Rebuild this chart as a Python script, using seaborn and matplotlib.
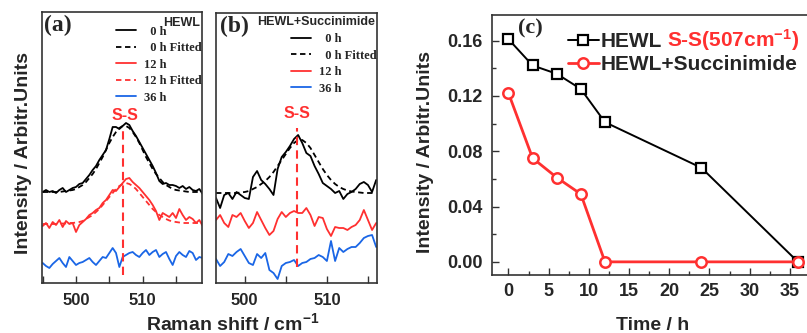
import matplotlib
matplotlib.use("Agg")
import matplotlib.pyplot as plt
from matplotlib.ticker import MultipleLocator, FormatStrFormatter
import seaborn as sns

# Raman spectra, panel (a): HEWL
shift_a = [495.0, 495.5, 496.0, 496.5, 497.0, 497.5, 498.0, 498.5, 499.0, 499.5,
           500.0, 500.5, 501.0, 501.5, 502.0, 502.5, 503.0, 503.5, 504.0, 504.5,
           505.0, 505.5, 506.0, 506.5, 507.0, 507.5, 508.0, 508.5, 509.0, 509.5,
           510.0, 510.5, 511.0, 511.5, 512.0, 512.5, 513.0, 513.5, 514.0, 514.5,
           515.0, 515.5, 516.0, 516.5, 517.0, 517.5, 518.0, 518.5, 519.0]
a_0h = [91, 93, 91, 92, 90, 93, 95, 91, 93, 95,
        96, 99, 100, 104, 108, 113, 117, 123, 128, 133,
        144, 156, 156, 154, 157, 160, 158, 152, 147, 141,
        135, 129, 123, 117, 110, 102, 99, 100, 98, 98,
        97, 95, 97, 94, 96, 93, 92, 94, 89]
a_0h_fit = [91, 91, 91, 91, 91, 91, 91.5, 92, 92.5, 93,
            94, 96, 98, 101, 105, 109, 114, 120, 126, 133,
            140, 146, 151, 155, 157, 157, 155, 151, 146, 140,
            133, 126, 120, 114, 109, 105, 101, 98, 96, 94,
            93, 92.5, 92, 91.5, 91, 91, 91, 91, 91]
a_12h = [57, 60, 55, 61, 58, 63, 56, 62, 59, 60,
         51, 58, 61, 64, 68, 70, 73, 75, 80, 83,
         88, 93, 92, 96, 100, 104, 105, 101, 98, 95,
         91, 87, 83, 78, 72, 63, 70, 68, 66, 70,
         65, 74, 68, 63, 66, 64, 60, 63, 57]
a_12h_fit = [59, 59, 59, 59, 59, 59, 59.5, 59.5, 60, 60,
             60.5, 61, 62, 64, 66, 68, 71, 74, 78, 82,
             86, 90, 94, 97, 99, 100, 99, 97, 94, 90,
             86, 82, 78, 74, 71, 68, 66, 64, 62.5, 61.5,
             61, 60.5, 60, 60, 60, 60, 60, 60, 60]
a_36h = [20, 17, 15, 19, 22, 25, 20, 16, 26, 22,
         18, 20, 21, 23, 25, 21, 18, 22, 26, 25,
         30, 35, 30, 16, 26, 28, 30, 31, 28, 26,
         30, 33, 28, 31, 33, 26, 29, 31, 24, 18,
         27, 31, 28, 26, 32, 30, 23, 26, 25]

# Raman spectra, panel (b): HEWL+Succinimide
shift_b = [496.5, 497.0, 497.5, 498.0, 498.5, 499.0, 499.5, 500.0, 500.5, 501.0,
           501.5, 502.0, 502.5, 503.0, 503.5, 504.0, 504.5, 505.0, 505.5, 506.0,
           506.5, 507.0, 507.5, 508.0, 508.5, 509.0, 509.5, 510.0, 510.5, 511.0,
           511.5, 512.0, 512.5, 513.0, 513.5, 514.0, 514.5, 515.0, 515.5, 516.0]
b_0h = [85, 75, 88, 90, 84, 91, 88, 85, 84, 106,
        112, 103, 99, 94, 88, 114, 126, 131, 137, 144,
        148, 140, 130, 127, 117, 109, 100, 97, 94, 90,
        92, 84, 89, 91, 94, 99, 101, 98, 91, 103]
b_0h_fit = [90, 90, 90, 90, 90, 90, 90.5, 91, 92, 94,
            96, 99, 102, 106, 111, 117, 123, 129, 135, 140,
            143, 143, 140, 135, 128, 121, 114, 108, 103, 99,
            96, 94, 92.5, 91.5, 91, 90.5, 90, 90, 90, 90]
b_12h = [63, 68, 60, 56, 68, 66, 70, 62, 55, 60,
         71, 63, 55, 48, 52, 64, 71, 66, 70, 72,
         70, 70, 75, 68, 57, 66, 65, 54, 47, 56,
         55, 55, 53, 56, 58, 63, 73, 63, 53, 60]
b_36h = [24, 17, 21, 29, 27, 31, 34, 27, 20, 18,
         29, 25, 30, 13, 10, 4, 17, 20, 21, 23,
         17, 20, 21, 24, 25, 28, 26, 22, 42, 22,
         35, 31, 34, 36, 36, 40, 45, 47, 48, 36]

# S-S band intensity vs time, panel (c)
time_h = [0, 3, 6, 9, 12, 24, 36]
hewl_ss = [0.161, 0.142, 0.136, 0.125, 0.101, 0.068, 0.0]
succ_ss = [0.122, 0.075, 0.061, 0.049, 0.0, 0.0, 0.0]

SS_POS_A = 507.0
SS_POS_B = 506.4

RED = "#ff3030"
BLUE = "#1a66e6"
SPINE = "#333333"
SANS = "Liberation Sans"
SERIF = "Liberation Serif"

sns.set_theme(style="ticks")
plt.rcParams["font.family"] = [SANS, "DejaVu Sans"]
plt.rcParams["font.weight"] = "bold"
plt.rcParams["axes.labelweight"] = "bold"
plt.rcParams["mathtext.fontset"] = "custom"
plt.rcParams["mathtext.rm"] = "Liberation Sans:bold"
plt.rcParams["mathtext.bf"] = "Liberation Sans:bold"
plt.rcParams["mathtext.default"] = "bf"

W, H = 807, 333
fig = plt.figure(figsize=(W / 100, H / 100), dpi=100)


def px_axes(left, top, right, bottom):
    return fig.add_axes([left / W, 1 - bottom / H, (right - left) / W, (bottom - top) / H])


ax_a = px_axes(42, 12, 202, 283)
ax_b = px_axes(216, 13, 377, 283)
ax_c = px_axes(492, 15, 814, 275)


def style_spectrum_ax(ax, xlim, ylim):
    ax.set_xlim(*xlim)
    ax.set_ylim(*ylim)
    ax.xaxis.set_major_locator(MultipleLocator(10))
    ax.xaxis.set_minor_locator(MultipleLocator(5))
    ax.set_yticks([])
    ax.tick_params(axis="x", which="both", direction="in", color=SPINE,
                   labelsize=12, pad=7, width=1.0, length=5)
    for s in ax.spines.values():
        s.set_visible(True)
        s.set_color(SPINE)
        s.set_linewidth(1.2)
    ax.set_xlabel("")
    ax.set_ylabel("")


legend_kw = dict(loc="upper right", frameon=False,
                 prop={"family": SERIF, "weight": "bold", "size": 9},
                 handlelength=1.6, handletextpad=0.6, labelspacing=0.36,
                 borderpad=0, borderaxespad=0)

# Panel (a)
sns.lineplot(x=shift_a, y=a_0h, ax=ax_a, color="black", lw=1.3, label="  0 h")
sns.lineplot(x=shift_a, y=a_0h_fit, ax=ax_a, color="black", lw=1.3,
             linestyle=(0, (3, 2)), label="  0 h Fitted")
sns.lineplot(x=shift_a, y=a_12h, ax=ax_a, color=RED, lw=1.3, label="12 h")
sns.lineplot(x=shift_a, y=a_12h_fit, ax=ax_a, color=RED, lw=1.3,
             linestyle=(0, (3, 2)), label="12 h Fitted")
sns.lineplot(x=shift_a, y=a_36h, ax=ax_a, color=BLUE, lw=1.3, label="36 h")
ax_a.vlines(SS_POS_A, 8, 155, colors=RED, linestyles=(0, (4, 2.5)), lw=1.5)
ax_a.text(SS_POS_A + 0.3, 167, "S-S", color=RED, fontsize=11.5, ha="center", va="center")
style_spectrum_ax(ax_a, (494.9, 518.9), (0, 271))
ax_a.legend(bbox_to_anchor=(0.995, 0.95), **legend_kw)
ax_a.text(0.015, 0.99, "(a)", transform=ax_a.transAxes, family=SERIF,
          fontsize=17, ha="left", va="top")
ax_a.text(0.988, 0.96, "HEWL", transform=ax_a.transAxes, fontsize=9,
          ha="right", va="center")

# Panel (b)
sns.lineplot(x=shift_b, y=b_0h, ax=ax_b, color="black", lw=1.3, label="  0 h")
sns.lineplot(x=shift_b, y=b_0h_fit, ax=ax_b, color="black", lw=1.3,
             linestyle=(0, (3, 2)), label="  0 h Fitted")
sns.lineplot(x=shift_b, y=b_12h, ax=ax_b, color=RED, lw=1.3, label="12 h")
sns.lineplot(x=shift_b, y=b_36h, ax=ax_b, color=BLUE, lw=1.3, label="36 h")
ax_b.vlines(SS_POS_B, 16, 155, colors=RED, linestyles=(0, (4, 2.5)), lw=1.5)
ax_b.text(SS_POS_B, 170, "S-S", color=RED, fontsize=11.5, ha="center", va="center")
style_spectrum_ax(ax_b, (496.5, 516.1), (0, 270))
ax_b.legend(bbox_to_anchor=(0.995, 0.925), **legend_kw)
ax_b.text(0.025, 0.99, "(b)", transform=ax_b.transAxes, family=SERIF,
          fontsize=17, ha="left", va="top")
ax_b.text(0.99, 0.965, "HEWL+Succinimide", transform=ax_b.transAxes, fontsize=9,
          ha="right", va="center")

fig.text(24 / W, 1 - 153 / H, "Intensity / Arbitr.Units", rotation=90,
         fontsize=14, ha="center", va="center")
fig.text(233 / W, 3 / H, "Raman shift / cm$^{-1}$", fontsize=14,
         ha="center", va="baseline")

# Panel (c)
sns.lineplot(x=time_h, y=hewl_ss, ax=ax_c, color="black", lw=1.4, marker="s",
             markersize=7, markerfacecolor="white", markeredgecolor="black",
             markeredgewidth=1.6, label="HEWL")
sns.lineplot(x=time_h, y=succ_ss, ax=ax_c, color=RED, lw=2.0, marker="o",
             markersize=7.5, markerfacecolor="white", markeredgecolor=RED,
             markeredgewidth=1.8, label="HEWL+Succinimide")
ax_c.set_xlim(-2.05, 38)
ax_c.set_ylim(-0.0095, 0.1785)
ax_c.xaxis.set_major_locator(MultipleLocator(5))
ax_c.xaxis.set_minor_locator(MultipleLocator(2.5))
ax_c.yaxis.set_major_locator(MultipleLocator(0.04))
ax_c.yaxis.set_minor_locator(MultipleLocator(0.02))
ax_c.yaxis.set_major_formatter(FormatStrFormatter("%.2f"))
ax_c.tick_params(which="both", direction="in", color=SPINE, labelsize=13, width=1.0)
ax_c.tick_params(which="major", length=5)
ax_c.tick_params(which="minor", length=3)
ax_c.tick_params(axis="x", pad=6)
ax_c.tick_params(axis="y", pad=7)
for s in ax_c.spines.values():
    s.set_visible(True)
    s.set_color(SPINE)
    s.set_linewidth(1.2)
ax_c.set_ylabel("")
ax_c.set_xlabel("")
fig.text(653 / W, 3 / H, "Time / h", fontsize=14, ha="center", va="baseline")
fig.text(425 / W, 1 - 152 / H, "Intensity / Arbitr.Units", rotation=90,
         fontsize=14, ha="center", va="center")
ax_c.legend(loc="upper left", bbox_to_anchor=(0.235, 0.935), frameon=False,
            fontsize=15, numpoints=1, handlelength=1.5, handletextpad=0.1,
            labelspacing=0.22, borderpad=0, borderaxespad=0)
ax_c.text(0.545, 0.904, "S-S(507cm$^{-1}$)", transform=ax_c.transAxes, color=RED,
          fontsize=15, ha="left", va="center")
ax_c.text(0.08, 0.985, "(c)", transform=ax_c.transAxes, family=SERIF,
          fontsize=16, ha="left", va="top")

fig.savefig("out.png", dpi=100)
